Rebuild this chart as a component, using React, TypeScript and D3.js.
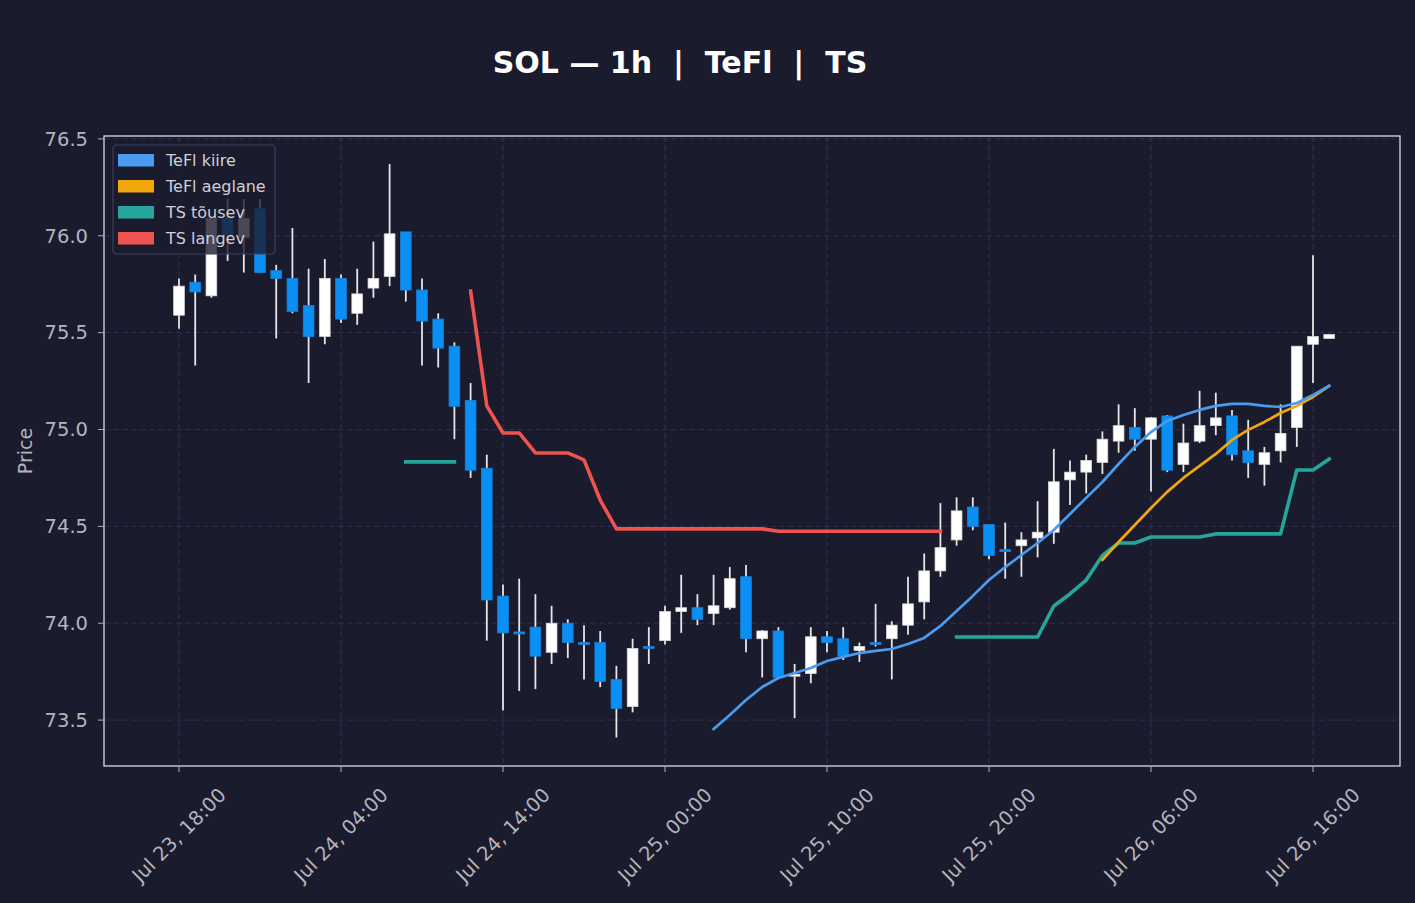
import { useEffect, useRef } from 'react'
import * as d3 from 'd3'

const HOUR = 3600 * 1000
const firstBar = Date.UTC(2025, 6, 23, 18)

// hourly OHLC, Jul 23 18:00 -> Jul 26 17:00
const opens = [
  75.59, 75.76, 75.69, 76.09, 75.99, 76.14, 75.82, 75.78, 75.64, 75.48,
  75.78, 75.60, 75.73, 75.79, 76.02, 75.72, 75.57, 75.43, 75.15, 74.80,
  74.14, 73.955, 73.98, 73.85, 74.00, 73.90, 73.90, 73.71, 73.57, 73.88,
  73.91, 74.06, 74.08, 74.05, 74.08, 74.24, 73.92, 73.96, 73.727, 73.74,
  73.93, 73.92, 73.86, 73.90, 73.92, 73.99, 74.11, 74.27, 74.43, 74.60,
  74.51, 74.38, 74.40, 74.44, 74.47, 74.74, 74.78, 74.83, 74.94, 75.01,
  74.95, 75.07, 74.82, 74.94, 75.02, 75.07, 74.89, 74.82, 74.89, 75.01,
  75.44, 75.47,
]
const highs = [
  75.78, 75.80, 76.10, 76.19, 76.19, 76.19, 75.85, 76.04, 75.83, 75.88,
  75.80, 75.83, 75.97, 76.37, 76.02, 75.78, 75.60, 75.45, 75.24, 74.87,
  74.20, 74.23, 74.15, 74.09, 74.02, 73.99, 73.96, 73.78, 73.92, 73.98,
  74.09, 74.25, 74.15, 74.25, 74.29, 74.30, 73.965, 73.98, 73.79, 73.98,
  73.96, 73.98, 73.90, 74.10, 74.01, 74.24, 74.36, 74.62, 74.65, 74.65,
  74.51, 74.52, 74.47, 74.63, 74.90, 74.84, 74.87, 74.99, 75.13, 75.11,
  75.065, 75.075, 75.03, 75.20, 75.19, 75.10, 75.05, 74.91, 75.13, 75.43,
  75.90, 75.49,
]
const lows = [
  75.52, 75.33, 75.68, 75.87, 75.81, 75.81, 75.47, 75.60, 75.24, 75.44,
  75.55, 75.54, 75.68, 75.74, 75.66, 75.33, 75.32, 74.95, 74.75, 73.91,
  73.55, 73.65, 73.66, 73.79, 73.82, 73.71, 73.67, 73.41, 73.54, 73.79,
  73.89, 73.95, 73.99, 73.99, 74.07, 73.85, 73.72, 73.72, 73.51, 73.69,
  73.85, 73.81, 73.80, 73.88, 73.71, 73.94, 74.02, 74.24, 74.40, 74.48,
  74.33, 74.23, 74.24, 74.34, 74.41, 74.61, 74.67, 74.77, 74.88, 74.89,
  74.68, 74.78, 74.78, 74.93, 74.97, 74.84, 74.75, 74.71, 74.83, 74.91,
  75.24, 75.47,
]
const closes = [
  75.74, 75.71, 76.09, 76.00, 76.09, 75.81, 75.78, 75.61, 75.48, 75.78,
  75.57, 75.70, 75.78, 76.01, 75.72, 75.56, 75.42, 75.12, 74.79, 74.12,
  73.95, 73.95, 73.83, 74.00, 73.90, 73.89, 73.70, 73.56, 73.87, 73.875,
  74.06, 74.08, 74.02, 74.09, 74.23, 73.92, 73.96, 73.72, 73.737, 73.93,
  73.90, 73.83, 73.88, 73.895, 73.99, 74.10, 74.27, 74.39, 74.58, 74.50,
  74.35, 74.375, 74.43, 74.47, 74.73, 74.78, 74.84, 74.95, 75.02, 74.95,
  75.06, 74.79, 74.93, 75.02, 75.06, 74.87, 74.83, 74.88, 74.98, 75.43,
  75.48, 75.49,
]

// indicator lines: first bar index + values
const teflFastStart = 33
const teflFast = [
  73.454, 73.526, 73.604, 73.671, 73.717, 73.743, 73.769, 73.805, 73.826, 73.846,
  73.857, 73.867, 73.893, 73.924, 73.986, 74.063, 74.141, 74.223, 74.290, 74.352,
  74.414, 74.481, 74.564, 74.647, 74.729, 74.822, 74.910, 74.987, 75.044, 75.075,
  75.101, 75.122, 75.132, 75.132, 75.122, 75.116, 75.137, 75.178, 75.225,
]
const teflSlowStart = 57
const teflSlow = [
  74.327, 74.419, 74.507, 74.595, 74.678, 74.750, 74.812, 74.874, 74.946, 74.998,
  75.039, 75.085, 75.122, 75.168, 75.225,
]
const tsUpSegments = [
  { start: 14, values: [74.833, 74.833, 74.833, 74.833] },
  {
    start: 48,
    values: [
      73.929, 73.929, 73.929, 73.929, 73.929, 73.929, 74.089, 74.151, 74.223, 74.350,
      74.414, 74.414, 74.445, 74.445, 74.445, 74.445, 74.461, 74.461, 74.461, 74.461,
      74.461, 74.791, 74.791, 74.848,
    ],
  },
]
const tsDownStart = 18
const tsDown = [
  75.715, 75.122, 74.982, 74.982, 74.879, 74.879, 74.879, 74.843, 74.636, 74.487,
  74.487, 74.487, 74.487, 74.487, 74.487, 74.487, 74.487, 74.487, 74.487, 74.475,
  74.475, 74.475, 74.475, 74.475, 74.475, 74.475, 74.475, 74.475, 74.475, 74.475,
]

const xTickHours = [0, 10, 20, 30, 40, 50, 60, 70]
const yTicks = [73.5, 74.0, 74.5, 75.0, 75.5, 76.0, 76.5]

const legendItems = [
  { label: 'TeFl kiire', color: '#4a9bf0' },
  { label: 'TeFl aeglane', color: '#f2a70c' },
  { label: 'TS tõusev', color: '#26a69a' },
  { label: 'TS langev', color: '#ef5350' },
]

const BG = '#1b1b2e'
const FONT = '"DejaVu Sans", sans-serif'

export default function App() {
  const svgRef = useRef<SVGSVGElement | null>(null)

  useEffect(() => {
    if (!svgRef.current) return
    const width = 1415
    const height = 903
    const margin = { top: 136, right: 15, bottom: 137, left: 104 }
    const innerW = width - margin.left - margin.right
    const innerH = height - margin.top - margin.bottom

    const svg = d3.select(svgRef.current)
    svg.selectAll('*').remove()
    svg.attr('width', width).attr('height', height)

    svg.append('rect').attr('width', width).attr('height', height).attr('fill', BG)

    const t = (i: number) => new Date(firstBar + i * HOUR)

    const x = d3.scaleUtc()
      .domain([t(-4.63), t(75.37)])
      .range([0, innerW])
    const y = d3.scaleLinear()
      .domain([73.263, 76.515])
      .range([innerH, 0])

    const g = svg.append('g').attr('transform', `translate(${margin.left},${margin.top})`)

    // grid
    g.append('g')
      .selectAll('line')
      .data(xTickHours)
      .join('line')
      .attr('x1', d => x(t(d)))
      .attr('x2', d => x(t(d)))
      .attr('y1', 0)
      .attr('y2', innerH)
      .attr('stroke', '#2f3050')
      .attr('stroke-width', 1)
      .attr('stroke-dasharray', '6,3')
    g.append('g')
      .selectAll('line')
      .data(yTicks)
      .join('line')
      .attr('x1', 0)
      .attr('x2', innerW)
      .attr('y1', d => y(d))
      .attr('y2', d => y(d))
      .attr('stroke', '#2f3050')
      .attr('stroke-width', 1)
      .attr('stroke-dasharray', '6,3')

    // candles
    const step = x(t(1)) - x(t(0))
    const bodyW = step * 0.66
    const bars = opens.map((o, i) => ({ i, o, h: highs[i], l: lows[i], c: closes[i] }))

    const candles = g.append('g')
    candles.selectAll('line')
      .data(bars)
      .join('line')
      .attr('x1', d => x(t(d.i)))
      .attr('x2', d => x(t(d.i)))
      .attr('y1', d => y(d.h))
      .attr('y2', d => y(d.l))
      .attr('stroke', '#e6e6e6')
      .attr('stroke-width', 1.8)
    candles.selectAll('rect')
      .data(bars)
      .join('rect')
      .attr('x', d => x(t(d.i)) - bodyW / 2)
      .attr('width', bodyW)
      .attr('y', d => y(Math.max(d.o, d.c)))
      .attr('height', d => Math.max(2, Math.abs(y(d.o) - y(d.c))))
      .attr('fill', d => (d.c >= d.o ? '#ffffff' : '#0a8ff5'))
      .attr('stroke', d => (d.c >= d.o ? '#d8d8d8' : '#1781d8'))
      .attr('stroke-width', 0.8)

    // indicator lines
    const line = d3.line<{ i: number; v: number }>()
      .x(d => x(t(d.i)))
      .y(d => y(d.v))

    const drawSeries = (start: number, values: number[], color: string, w: number) => {
      g.append('path')
        .datum(values.map((v, k) => ({ i: start + k, v })))
        .attr('d', line)
        .attr('fill', 'none')
        .attr('stroke', color)
        .attr('stroke-width', w)
        .attr('stroke-linejoin', 'round')
        .attr('stroke-linecap', 'square')
    }

    drawSeries(tsDownStart, tsDown, '#ef5350', 3.6)
    tsUpSegments.forEach(s => drawSeries(s.start, s.values, '#26a69a', 3.6))
    drawSeries(teflSlowStart, teflSlow, '#f2a70c', 2.7)
    drawSeries(teflFastStart, teflFast, '#4a9bf0', 2.7)

    // frame
    g.append('rect')
      .attr('width', innerW)
      .attr('height', innerH)
      .attr('fill', 'none')
      .attr('stroke', '#dcdce0')
      .attr('stroke-width', 1.3)

    // y axis
    const yAxis = g.append('g')
    yAxis.selectAll('line')
      .data(yTicks)
      .join('line')
      .attr('x1', -6)
      .attr('x2', 0)
      .attr('y1', d => y(d))
      .attr('y2', d => y(d))
      .attr('stroke', '#b0b0b8')
      .attr('stroke-width', 1)
    yAxis.selectAll('text')
      .data(yTicks)
      .join('text')
      .attr('x', -16)
      .attr('y', d => y(d))
      .attr('dy', '0.35em')
      .attr('text-anchor', 'end')
      .attr('fill', '#b4b4bc')
      .style('font-family', FONT)
      .style('font-size', '19.5px')
      .text(d => d3.format('.1f')(d))

    svg.append('text')
      .attr('transform', `translate(25,${margin.top + innerH / 2}) rotate(-90)`)
      .attr('text-anchor', 'middle')
      .attr('dy', '0.35em')
      .attr('fill', '#b4b4bc')
      .style('font-family', FONT)
      .style('font-size', '19px')
      .text('Price')

    // x axis
    const xAxis = g.append('g').attr('transform', `translate(0,${innerH})`)
    const fmt = d3.utcFormat('%b %d, %H:%M')
    xAxis.selectAll('line')
      .data(xTickHours)
      .join('line')
      .attr('x1', d => x(t(d)))
      .attr('x2', d => x(t(d)))
      .attr('y1', 0)
      .attr('y2', 6)
      .attr('stroke', '#b0b0b8')
      .attr('stroke-width', 1)
    xAxis.selectAll('text')
      .data(xTickHours)
      .join('text')
      .attr('transform', d => `translate(${x(t(d))},69) rotate(-45)`)
      .attr('text-anchor', 'middle')
      .attr('dy', '0.35em')
      .attr('fill', '#b4b4bc')
      .style('font-family', FONT)
      .style('font-size', '19.5px')
      .text(d => fmt(t(d)))

    // legend
    const legend = g.append('g').attr('transform', 'translate(9,9)')
    legend.append('rect')
      .attr('width', 162)
      .attr('height', 109)
      .attr('rx', 4)
      .attr('fill', BG)
      .attr('fill-opacity', 0.8)
      .attr('stroke', '#3d3e5e')
      .attr('stroke-width', 1.2)
    const items = legend.selectAll('g.item')
      .data(legendItems)
      .join('g')
      .attr('class', 'item')
      .attr('transform', (d, i) => `translate(0,${15 + i * 26})`)
    items.append('rect')
      .attr('x', 5)
      .attr('y', -6)
      .attr('width', 36)
      .attr('height', 12.5)
      .attr('fill', d => d.color)
    items.append('text')
      .attr('x', 53)
      .attr('dy', '0.35em')
      .attr('fill', '#cfcfd6')
      .style('font-family', FONT)
      .style('font-size', '16px')
      .text(d => d.label)

    // title
    svg.append('text')
      .attr('x', 680)
      .attr('y', 73)
      .attr('text-anchor', 'middle')
      .attr('fill', '#ffffff')
      .attr('xml:space', 'preserve')
      .style('white-space', 'pre')
      .style('font-family', FONT)
      .style('font-size', '30px')
      .style('font-weight', 'bold')
      .text('SOL — 1h  |  TeFl  |  TS')
  }, [])

  return (
    <div style={{ position: 'absolute', left: 0, top: 0, width: 1415, height: 903, background: BG }}>
      <svg ref={svgRef} style={{ display: 'block' }} />
    </div>
  )
}
